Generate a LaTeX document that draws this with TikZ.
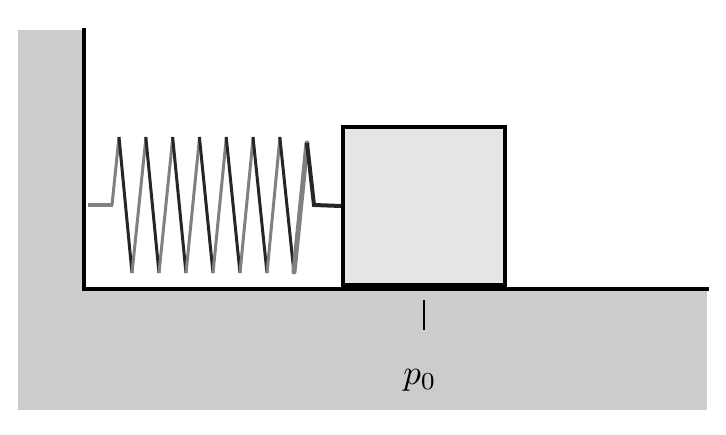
\documentclass[tikz,border=0pt]{standalone}
\begin{document}
\begin{tikzpicture}[x=1pt,y=-1pt,
  front/.style={draw=black!85,line width=3pt},
  back/.style={draw=black!50,line width=3pt},
  wall/.style={line width=4.5pt,line cap=rect}]
\useasboundingbox (0,0) rectangle (726,434);
\fill[black!20] (18,30) rectangle (707,410);
\fill[white] (84,30) rectangle (707,289);
\draw[wall] (84,30) -- (84,289) -- (707,289);
\node[draw,line width=4pt,fill=black!10,minimum width=162pt,minimum height=158pt,inner sep=0pt] (m) at (424,206) {};
\coordinate (t0) at (424,300);
\coordinate (t1) at (424,330);
\draw[line width=2.5pt] (t0) -- (t1);
\node (p) at (420,380) {\scalebox{3.5}{$p_0$}};
% spring
\draw[back,line width=4pt] (88,205) -- (113,205);
\draw[back] (112,205) -- (119,137);
\foreach \i in {0,...,6}{
  \pgfmathsetmacro\xt{119+26.8*\i}
  \pgfmathsetmacro\xb{132+27*\i}
  \pgfmathsetmacro\xn{146+26.8*\i}
  \draw[front] (\xt,137) -- (\xb,273);
  \ifnum\i<6 \draw[back] (\xb,273) -- (\xn,137);\fi
}
\draw[back,line width=5pt,line cap=round] (294,272) -- (307,143);
\draw[front,line width=4pt] (307,143) -- (314,205) -- (m.west);
\end{tikzpicture}
\end{document}
